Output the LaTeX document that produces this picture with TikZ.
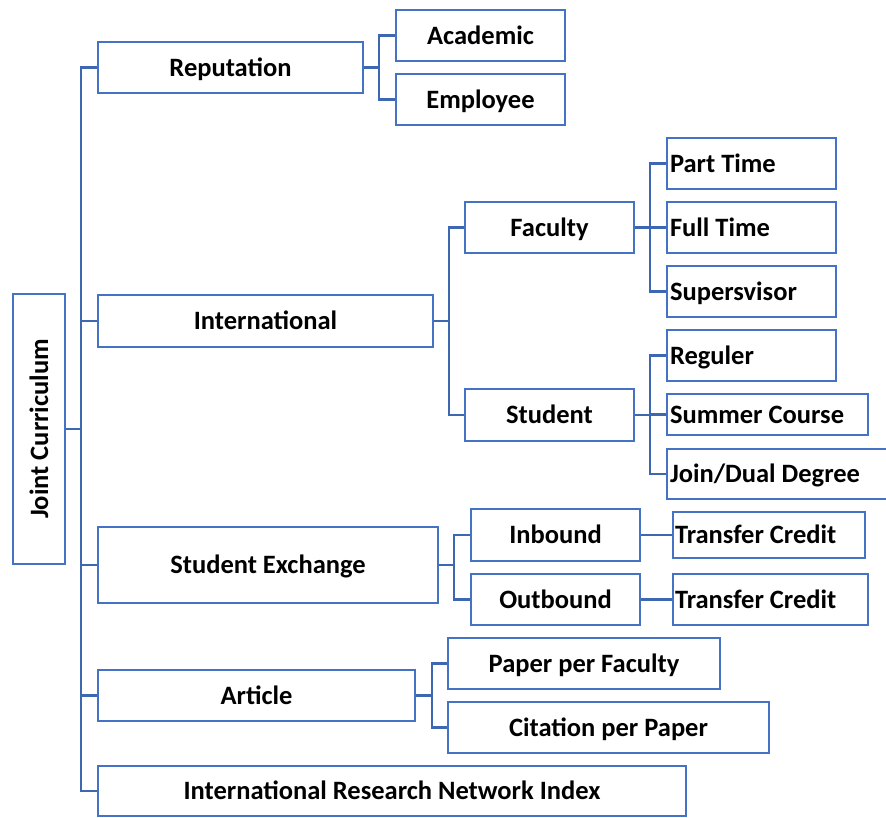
\documentclass[tikz,border=0pt]{standalone}
\usepackage{fontspec}
\setmainfont{Carlito}
\definecolor{ofblue}{HTML}{4472C4}
\definecolor{lnblue}{HTML}{3E67B1}
\begin{document}
\begin{tikzpicture}[x=1pt,y=-1pt,
  box/.style={draw=ofblue,line width=2.6pt,fill=white,inner sep=0pt,minimum height=51pt,
    text height=20pt,text depth=3pt,
    font=\fontsize{26.5}{30}\selectfont\bfseries,text=black},
  lbox/.style={box,inner xsep=3pt,align=flush left},
  conn/.style={draw=lnblue,line width=2.6pt}]
\useasboundingbox (0,0) rectangle (886,817);
% level 0
\node[box,minimum width=52pt,minimum height=270pt,text height=,text depth=] (jc) at (39,429) {\rotatebox{90}{Joint Curriculum}};
% level 1
\node[box,minimum width=265pt] (rep) at (230.5,67.5) {Reputation};
\node[box,minimum width=335pt,minimum height=52pt] (intl) at (265.5,321) {International};
\node[box,minimum width=340pt,minimum height=76pt] (se) at (268,565) {Student Exchange};
\node[box,minimum width=317pt] (art) at (256.5,695.5) {Article};
\node[box,minimum width=588pt,minimum height=50pt] (irni) at (392,791) {International Research Network Index};
% reputation children
\node[box,minimum width=169pt] (acad) at (480.5,35.5) {Academic};
\node[box,minimum width=169pt] (emp) at (480.5,99.5) {Employee};
% international children
\node[box,minimum width=169pt] (fac) at (549.5,227.5) {Faculty};
\node[box,minimum width=169pt,minimum height=52pt] (stu) at (549.5,415) {Student};
% faculty children
\node[lbox,text width=163pt] (pt) at (751.5,163.5) {Part Time};
\node[lbox,text width=163pt] (ft) at (751.5,227.5) {Full Time};
\node[lbox,text width=163pt] (sup) at (751.5,291.5) {Supersvisor};
% student children
\node[lbox,text width=163pt] (reg) at (751.5,355.5) {Reguler};
\node[lbox,text width=195pt,minimum height=41pt] (sum) at (767.5,414.5) {Summer Course};
\node[lbox,text width=229pt,minimum height=50pt] (join) at (784.5,474) {Join/Dual Degree};
% student exchange children
\node[box,minimum width=169pt,minimum height=52pt] (inb) at (555.5,535) {Inbound};
\node[box,minimum width=169pt] (outb) at (555.5,599.5) {Outbound};
\node[lbox,inner xsep=2pt,text width=188pt,minimum height=46pt] (tc1) at (769,535) {Transfer Credit};
\node[lbox,inner xsep=2pt,text width=191pt] (tc2) at (770.5,599.5) {Transfer Credit};
% article children
\node[box,minimum width=272pt] (ppf) at (584,663.5) {Paper per Faculty};
\node[box,minimum width=321pt] (cpp) at (608.5,727.5) {Citation per Paper};
% junction coordinates
\coordinate (tr) at (81,429);
\coordinate (rj) at (379,67.5);
\coordinate (ij) at (449,321);
\coordinate (fj) at (650,227.5);
\coordinate (sj) at (650,415);
\coordinate (sej) at (454,565);
\coordinate (aj) at (432,695.5);
% connectors
\draw[conn] (jc.east) -- (tr);
\draw[conn] (rep.west) -| (tr) |- (irni.west);
\draw[conn] (intl.west) -- (intl.west -| tr);
\draw[conn] (se.west) -- (se.west -| tr);
\draw[conn] (art.west) -- (art.west -| tr);
\draw[conn] (rep.east) -- (rj);
\draw[conn] (acad.west) -| (rj) |- (emp.west);
\draw[conn] (intl.east) -- (ij);
\draw[conn] (fac.west) -| (ij) |- (stu.west);
\draw[conn] (fac.east) -- (fj);
\draw[conn] (pt.west) -| (fj) |- (sup.west);
\draw[conn] (fj) -- (ft.west);
\draw[conn] (stu.east) -- (sj);
\draw[conn] (reg.west) -| (sj) |- (join.west);
\draw[conn] (sum.west -| sj) -- (sum.west);
\draw[conn] (se.east) -- (sej);
\draw[conn] (inb.west) -| (sej) |- (outb.west);
\draw[conn] (inb.east) -- (tc1.west);
\draw[conn] (outb.east) -- (tc2.west);
\draw[conn] (art.east) -- (aj);
\draw[conn] (ppf.west) -| (aj) |- (cpp.west);
\end{tikzpicture}
\end{document}
